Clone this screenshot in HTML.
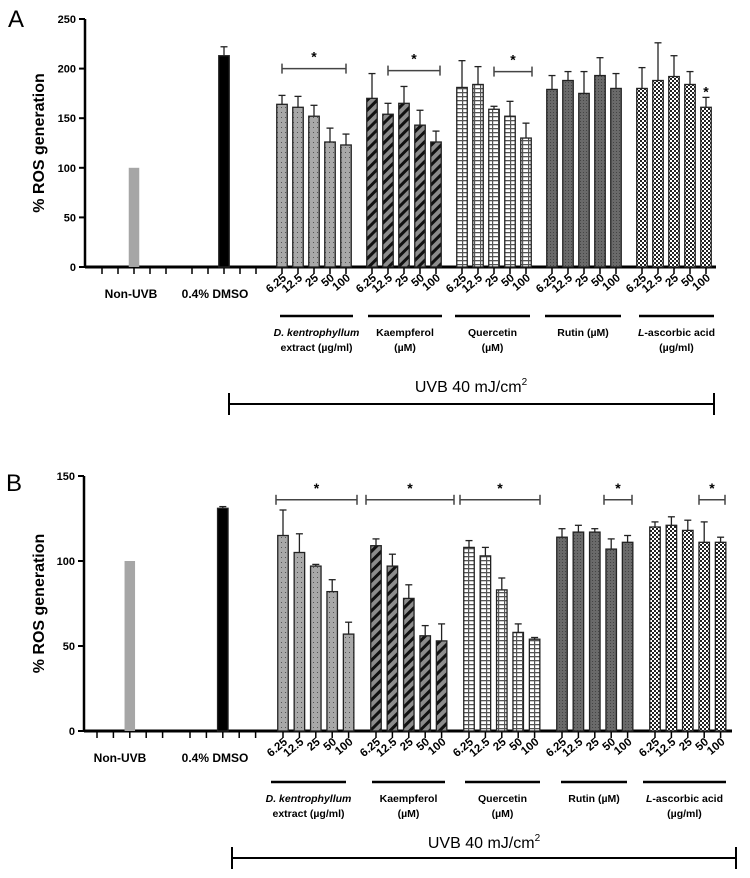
<!DOCTYPE html>
<html><head><meta charset="utf-8"><style>
html,body{margin:0;padding:0;background:#fff;}
svg{display:block;font-family:"Liberation Sans",Arial,sans-serif;}
</style></head><body>
<svg id="chart" width="750" height="878" viewBox="0 0 750 878">
<defs>
<pattern id="p-dots" width="4" height="5" patternUnits="userSpaceOnUse"><rect width="4" height="5" fill="#a8a8a8"/><rect x="1" y="2" width="1" height="1" fill="#555"/></pattern>
<pattern id="p-diag" width="7" height="7" patternUnits="userSpaceOnUse" patternTransform="rotate(45)"><rect width="7" height="7" fill="#8c8c8c"/><rect width="3" height="7" fill="#111"/></pattern>
<pattern id="p-brick" width="6" height="4" patternUnits="userSpaceOnUse"><rect width="6" height="4" fill="#fff"/><rect y="0" width="6" height="1.3" fill="#555"/><rect x="0" y="0" width="1.2" height="4" fill="#555"/></pattern>
<pattern id="p-dark" width="3" height="3" patternUnits="userSpaceOnUse"><rect width="3" height="3" fill="#6a6a6a"/><rect x="1" y="1" width="1" height="1" fill="#444"/></pattern>
<pattern id="p-check" width="4" height="4" patternUnits="userSpaceOnUse"><rect width="4" height="4" fill="#fff"/><rect width="2" height="2" fill="#222"/><rect x="2" y="2" width="2" height="2" fill="#222"/></pattern>
</defs>
</svg>
<script>
const concLabels = ["6.25","12.5","25","50","100"];
const groupNames = ["dk","kaempferol","quercetin","rutin","ascorbic"];
const aNonUVB = 100;
const aDMSO = 213, aDMSOErr = 222;
const aDk = [164,161,152,126,123], aDkErr = [173,172,163,140,134];
const aKa = [170,154,165,143,126], aKaErr = [195,165,182,158,137];
const aQu = [181,184,159,152,130], aQuErr = [208,202,162,167,145];
const aRu = [179,188,175,193,180], aRuErr = [193,197,197,211,195];
const aAs = [180,188,192,184,161], aAsErr = [201,226,213,197,171];
const aTicks = [0,50,100,150,200,250];
const bNonUVB = 100;
const bDMSO = 131, bDMSOErr = 132;
const bDk = [115,105,97,82,57], bDkErr = [130,116,98,89,64];
const bKa = [109,97,78,56,53], bKaErr = [113,104,86,62,63];
const bQu = [108,103,83,58,54], bQuErr = [112,108,90,63,55];
const bRu = [114,117,117,107,111], bRuErr = [119,121,119,113,115];
const bAs = [120,121,118,111,111], bAsErr = [123,126,124,123,114];
const bTicks = [0,50,100,150];

const NS="http://www.w3.org/2000/svg";
const svg=document.getElementById('chart');
function mk(tag,attrs,parent,text){const e=document.createElementNS(NS,tag);for(const k in attrs)e.setAttribute(k,attrs[k]);if(text!==undefined)e.textContent=text;(parent||svg).appendChild(e);return e;}
const fills=["url(#p-dots)","url(#p-diag)","url(#p-brick)","url(#p-dark)","url(#p-check)"];

function drawPanel(P){
  const g=mk('g',{});
  
  
  const y=v=>P.base-(v/P.max)*(P.base-P.top);
  const slotX=(grp,i)=>P.x0+grp*P.gs+i*P.ss;
  const L=mk('text',{x:P.lx,y:P.ly,'font-size':24},g,P.id);
  
  const yt=mk('text',{x:0,y:0,'font-size':16,'font-weight':'bold','text-anchor':'middle',transform:`translate(44,${(P.base+P.top)/2}) rotate(-90)`},g,'% ROS generation');
  
  const ax=mk('line',{x1:P.ax,y1:P.top,x2:P.ax,y2:P.base,stroke:'#000','stroke-width':2.5},g);
  
  P.ticks.forEach(t=>{
    mk('line',{x1:P.ax-6,y1:y(t),x2:P.ax,y2:y(t),stroke:'#000','stroke-width':2},g);
    const tl=mk('text',{x:P.ax-9,y:y(t)+4,'font-size':11,'font-weight':'bold','text-anchor':'end'},g,String(t));
    
  });
  const bx=mk('line',{x1:P.ax,y1:P.base,x2:P.xend,y2:P.base,stroke:'#000','stroke-width':3},g);
  
  for(let grp=0;grp<7;grp++)for(let i=0;i<5;i++){
    const x=slotX(grp,i);mk('line',{x1:x,y1:P.base,x2:x,y2:P.base+7,stroke:'#000','stroke-width':1.5},g);
  }
  const bw=10.5;
  function bar(x,v,err,fill,name,stroke){
    if(err!==null){mk('line',{x1:x,y1:y(err),x2:x,y2:y(v),stroke:'#222','stroke-width':1.3},g);
      mk('line',{x1:x-3.5,y1:y(err),x2:x+3.5,y2:y(err),stroke:'#222','stroke-width':1.3},g);}
    const r=mk('rect',{x:x-bw/2,y:y(v),width:bw,height:P.base-y(v),fill:fill,stroke:stroke||'#222','stroke-width':stroke==='none'?0:1.3},g);
    
  }
  bar(slotX(0,2),P.non,null,'#a6a6a6','bar-non-uvb','none');
  bar(slotX(1,2),P.dmso,P.dmsoErr,'#000','bar-dmso');
  P.series.forEach((s,gi)=>{
    s.v.forEach((v,i)=>bar(slotX(gi+2,i),v,s.e[i],fills[gi],'bar-'+groupNames[gi]+'-'+concLabels[i]));
    concLabels.forEach((c,i)=>{
      const x=slotX(gi+2,i)+5,yy=P.base+12;
      const tg=mk('g',{transform:'translate('+x+','+yy+') rotate(-40)'},g);
      const t=mk('text',{x:0,y:0,'font-size':11.5,'font-weight':'bold','text-anchor':'end'},tg,c);
      
    });
    const sp=P.under[gi];
    const ul=mk('line',{x1:sp[0],y1:P.uy,x2:sp[1],y2:P.uy,stroke:'#000','stroke-width':2.5},g);
    
    const cx=(sp[0]+sp[1])/2;
    const l1=mk('text',{x:cx,y:P.uy+20,'font-size':10.5,'font-weight':'bold','text-anchor':'middle'},g);
    l1.innerHTML=P.lab1[gi];
    
    if(P.lab2[gi]){const l2=mk('text',{x:cx,y:P.uy+35,'font-size':10.5,'font-weight':'bold','text-anchor':'middle'},g,P.lab2[gi]);
      }
  });
  const n1=mk('text',{x:P.nonX,y:P.base+31,'font-size':12,'font-weight':'bold','text-anchor':'middle'},g,'Non-UVB');
  
  const n2=mk('text',{x:P.dmsoX,y:P.base+31,'font-size':12,'font-weight':'bold','text-anchor':'middle'},g,'0.4% DMSO');
  
  P.brackets.forEach(b=>{
    const by=y(b[2]);
    mk('line',{x1:b[0],y1:by,x2:b[1],y2:by,stroke:'#444','stroke-width':1.5},g);
    mk('line',{x1:b[0],y1:by-5,x2:b[0],y2:by+5,stroke:'#444','stroke-width':1.5},g);
    mk('line',{x1:b[1],y1:by-5,x2:b[1],y2:by+5,stroke:'#444','stroke-width':1.5},g);
    const st=mk('text',{x:(b[0]+b[1])/2,y:by-7,'font-size':14,'font-weight':'bold','text-anchor':'middle'},g,'*');
    
  });
  (P.stars||[]).forEach(s=>{mk('text',{x:s[0],y:y(s[1]),'font-size':14,'font-weight':'bold','text-anchor':'middle'},g,'*');});
  const ut=mk('text',{x:P.uvbX,y:P.uvbTY,'font-size':16,'text-anchor':'middle'},g);
  ut.innerHTML='UVB 40 mJ/cm<tspan dy="-7" font-size="10">2</tspan>';
  
  const uv=mk('line',{x1:P.uvb[0],y1:P.uvbY,x2:P.uvb[1],y2:P.uvbY,stroke:'#000','stroke-width':2},g);
  
  mk('line',{x1:P.uvb[0],y1:P.uvbY-11,x2:P.uvb[0],y2:P.uvbY+11,stroke:'#000','stroke-width':2},g);
  mk('line',{x1:P.uvb[1],y1:P.uvbY-11,x2:P.uvb[1],y2:P.uvbY+11,stroke:'#000','stroke-width':2},g);
}
const lab1=['<tspan font-style="italic">D. kentrophyllum</tspan>','Kaempferol','Quercetin','Rutin (µM)','<tspan font-style="italic">L</tspan>-ascorbic acid'];
const lab2=['extract (µg/ml)','(µM)','(µM)','','(µg/ml)'];
drawPanel({id:'A',lx:8,ly:27,ax:85,top:19,base:267,max:250,xend:716,ticks:aTicks,x0:102,gs:90,ss:16,
  non:aNonUVB,dmso:aDMSO,dmsoErr:aDMSOErr,
  series:[{v:aDk,e:aDkErr},{v:aKa,e:aKaErr},{v:aQu,e:aQuErr},{v:aRu,e:aRuErr},{v:aAs,e:aAsErr}],
  under:[[280,353],[368,442],[455,530],[545,621],[639,714]],uy:316,lab1:lab1,lab2:lab2,
  nonX:131,dmsoX:215,brackets:[[282,346,200],[388,440,198],[494,532,197]],stars:[[706,172]],
  uvbX:471,uvbTY:392,uvb:[229,714],uvbY:404});
drawPanel({id:'B',lx:6,ly:491,ax:84,top:476,base:731,max:150,xend:732,ticks:bTicks,x0:97,gs:93,ss:16.4,
  non:bNonUVB,dmso:bDMSO,dmsoErr:bDMSOErr,
  series:[{v:bDk,e:bDkErr},{v:bKa,e:bKaErr},{v:bQu,e:bQuErr},{v:bRu,e:bRuErr},{v:bAs,e:bAsErr}],
  under:[[271,346],[372,445],[465,540],[561,627],[643,726]],uy:782,lab1:lab1,lab2:lab2,
  nonX:120,dmsoX:215,brackets:[[276,357,136],[366,454,136],[460,540,136],[604,632,136],[699,725,136]],
  uvbX:484,uvbTY:848,uvb:[232,736],uvbY:858});
</script>
</body></html>
